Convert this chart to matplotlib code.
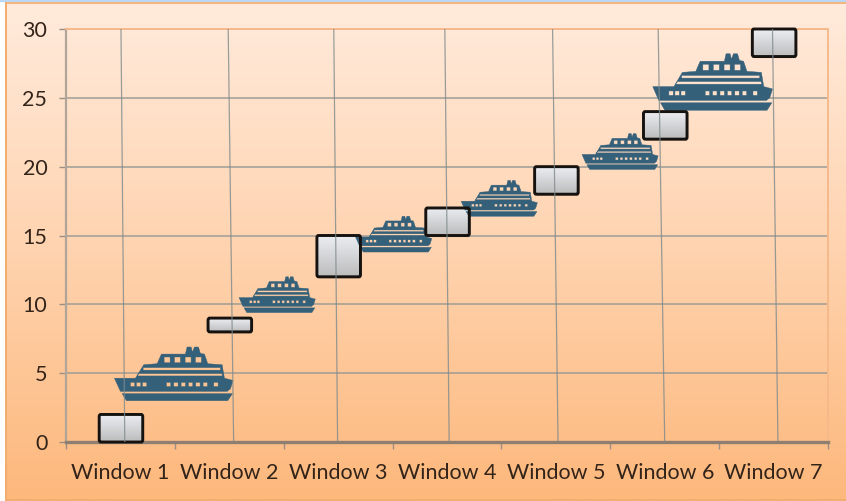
import numpy as np
import matplotlib
matplotlib.use("Agg")
import matplotlib.pyplot as plt
from matplotlib.path import Path
from matplotlib.patches import PathPatch, FancyBboxPatch, Rectangle
from matplotlib.colors import LinearSegmentedColormap
from matplotlib.transforms import Affine2D

windows = ["Window 1", "Window 2", "Window 3", "Window 4", "Window 5", "Window 6", "Window 7"]
box_low = [0, 8, 12, 15, 18, 22, 28]
box_high = [2, 9, 15, 17, 20, 24, 30]
ship_x = [1.49, 2.44, 3.51, 4.48, 5.59, 6.44]
ship_low = [3.0, 9.4, 13.8, 16.4, 19.8, 24.1]
ship_high = [6.9, 12.0, 16.4, 19.0, 22.4, 28.2]
ship_w = [1.09, 0.70, 0.70, 0.70, 0.70, 1.10]
y_ticks = [0, 5, 10, 15, 20, 25, 30]
grid_bottom = [1.04, 2.04, 2.995, 4.02, 5.02, 6.0, 7.04]
grid_top = [1.005, 1.99, 2.96, 3.98, 4.97, 5.94, 6.99]

W, H = 846, 501
plt.rcParams["font.family"] = ["Lato", "DejaVu Sans"]
fig = plt.figure(figsize=(W / 100, H / 100), dpi=100)

# full-figure background
bg = fig.add_axes([0, 0, 1, 1], zorder=0)
bg.set_xlim(0, W); bg.set_ylim(H, 0); bg.axis("off")
cmap = LinearSegmentedColormap.from_list("bg", ["#FFEBDC", "#FFD3AF", "#FDB87C"])
bg.add_patch(Rectangle((0, 0), W, H, fc="white", ec="none"))
im = bg.imshow(np.linspace(0, 1, 256)[:, None], cmap=cmap, aspect="auto",
               extent=(6, W, 499, 3), zorder=1)
bg.set_xlim(0, W); bg.set_ylim(H, 0)
bg.plot([0, W], [0.8, 0.8], color="#BBD7F2", lw=1.6, zorder=2)
bg.plot([6, W], [3, 3], color="#F5B47C", lw=1.4, zorder=2)
bg.plot([6, 6], [3, 499], color="#F2AC6E", lw=1.4, zorder=2)
bg.plot([6, W], [499.5, 499.5], color="#F2AC6E", lw=1.4, zorder=2)

ax = fig.add_axes([66 / W, 1 - 442 / H, (828 - 66) / W, (442 - 29) / H], zorder=1)
ax.patch.set_alpha(0)
ax.set_xlim(0.5, 7.5)
ax.set_ylim(0, 30)
ax.set_xticks(np.arange(0.5, 8))
ax.set_xticklabels([])
ax.set_yticks(y_ticks)
ax.tick_params(axis="both", length=5, width=1, color="#9A8F86", labelsize=15.5, labelcolor="#33241A", pad=8.5)
ax.set_xticks(np.arange(1, 8), minor=True)
ax.set_xticklabels(windows, minor=True, fontsize=15.5, color="#33241A")
ax.tick_params(axis="x", which="minor", length=0, pad=15)
for s, c, lw in [("top", "#F6B98A", 1.4), ("right", "#F6B98A", 1.4), ("left", "#B0A598", 1.6), ("bottom", "#8F7F72", 2.4)]:
    ax.spines[s].set_color(c); ax.spines[s].set_linewidth(lw)

ax.set_axisbelow(True)
ax.yaxis.grid(True, color="#8F9492", lw=1.2, alpha=.8, zorder=1)

# boxes
box_cmap = LinearSegmentedColormap.from_list("box", ["#BCBCBC", "#ECEEF3"])
for i, (lo, hi) in enumerate(zip(box_low, box_high)):
    xc = i + 1 + 0.005
    hw = 0.2
    ax.add_patch(FancyBboxPatch((xc - hw + .012, lo - 0.12), 2 * hw, hi - lo, boxstyle="round,pad=0,rounding_size=0.02",
                                mutation_aspect=10, fc="#5A4638", ec="none", alpha=.3, zorder=2, clip_on=False))
    patch = FancyBboxPatch((xc - hw, lo), 2 * hw, hi - lo, boxstyle="round,pad=0,rounding_size=0.015",
                           mutation_aspect=10, fc="none", ec="#15120F", lw=2.1, zorder=4, clip_on=False)
    ax.add_patch(patch)
    g = ax.imshow(np.linspace(0, 1, 64)[:, None], cmap=box_cmap, aspect="auto", origin="lower",
                  extent=(xc - hw, xc + hw, lo, hi), zorder=3, clip_on=True)
    g.set_clip_path(patch)
ax.set_xlim(0.5, 7.5); ax.set_ylim(0, 30)

# vertical gridlines (the picture is very slightly skewed)
for xb, xt in zip(grid_bottom, grid_top):
    ax.plot([xb, xt], [0, 30], color="#7F8A8C", lw=0.9, alpha=.8, zorder=5)


# ship pictogram, unit square coordinates
def rect_hole(x0, y0, x1, y1):
    return [(x0, y0), (x0, y1), (x1, y1), (x1, y0), (x0, y0)]


hull = [(342, 145), (405, 145), (430, 103), (470, 100), (483, 70), (555, 70), (560, 48), (572, 48), (576, 64),
        (582, 48), (594, 48), (600, 68), (612, 70), (622, 100), (665, 103), (672, 145), (698, 152), (690, 178),
        (680, 186), (360, 186), (342, 145)]
stripe = [(365, 193), (696, 193), (682, 215), (378, 215), (365, 193)]
holes = [rect_hole(428, 112, 660, 120),
         [(416, 130), (416, 130), (410, 138), (666, 138), (664, 130), (416, 130)]]
holes += [rect_hole(x, 79, x + 18, 97) for x in (491, 522, 554, 585)]
holes += [rect_hole(x, 158, x + 13, 171) for x in (390, 408, 426)]
holes += [rect_hole(x, 158, x + 13, 171) for x in (498, 520, 542, 564, 586, 608, 640)]
verts, codes = [], []
for poly in [hull, stripe] + holes:
    verts += poly
    codes += [Path.MOVETO] + [Path.LINETO] * (len(poly) - 2) + [Path.CLOSEPOLY]
verts = np.array(verts, float)
verts[:, 0] = (verts[:, 0] - 342) / 356
verts[:, 1] = (215 - verts[:, 1]) / 167
ship = Path(verts, codes)

for x, lo, hi, w in zip(ship_x, ship_low, ship_high, ship_w):
    tr = Affine2D().scale(w, hi - lo).translate(x - w / 2, lo) + ax.transData
    ax.add_patch(PathPatch(ship, fc="#35607A", ec="#35607A", lw=0.3, transform=tr, zorder=3.5))

fig.savefig("out.png", dpi=100)
